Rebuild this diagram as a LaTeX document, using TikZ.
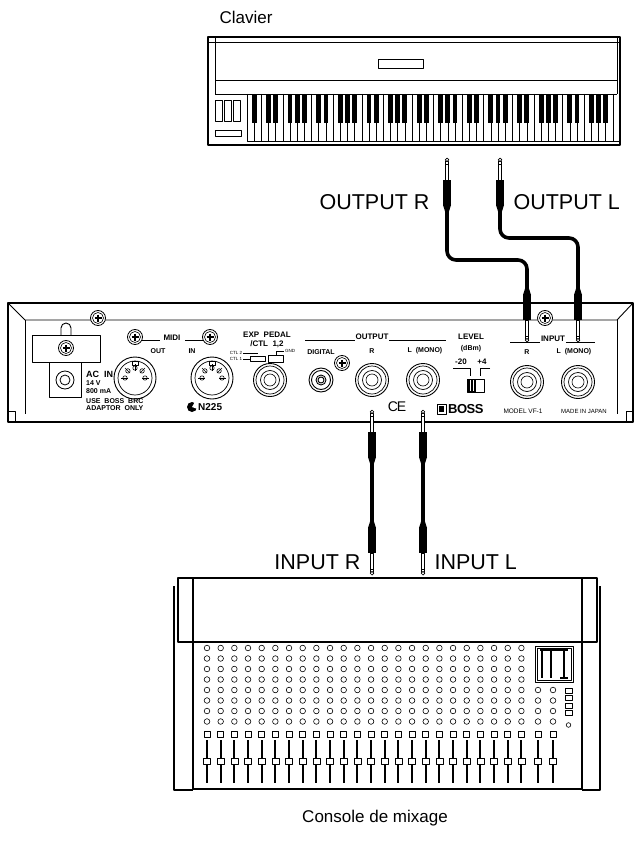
\documentclass[tikz,border=0pt]{standalone}
\usepackage{fontspec}
\setmainfont{Liberation Sans}
\begin{document}
\begin{tikzpicture}[x=1pt,y=-1pt,line join=round,
  big/.style={font=\fontsize{21.5}{24}\selectfont},
  mid/.style={font=\fontsize{17}{20}\selectfont},
  tiny/.style={font=\fontsize{7}{8}\selectfont\bfseries,inner sep=0pt},
  tinyn/.style={font=\fontsize{7}{8}\selectfont,inner sep=0pt},
  cable/.style={line width=3.6pt,rounded corners=9pt},
  plug/.pic={
    \draw[line width=0.7pt,fill=white] (-1.6,3) rectangle (1.6,22);
    \draw[line width=0.7pt,fill=white] (0,1.8) circle (1.8);
    \draw[line width=0.7pt] (-1.6,6) -- (1.6,6);
    \fill (-4,22) rectangle (4,47);
    \fill (-4,47) -- (4,47) -- (1.8,54) -- (-1.8,54) -- cycle;
  },
  screw/.pic={
    \draw[line width=0.8pt,fill=white] (0,0) circle (7.5);
    \draw[line width=0.6pt] (0,0) circle (5.5);
    \draw[line width=2.2pt] (-3.5,0) -- (3.5,0) (0,-3.5) -- (0,3.5);
  },
  jack/.pic={
    \draw[line width=0.9pt] (0,0) circle (16.5);
    \draw[line width=0.7pt] (0,0) circle (14);
    \draw[line width=0.7pt] (0,0) circle (9.5);
    \draw[line width=0.6pt] (0,0) circle (6);
  },
  din/.pic={
    \draw[line width=0.9pt] (0,0) circle (21);
    \draw[line width=0.7pt] (0,0) circle (17);
    \draw[line width=0.6pt] (-3,-17) rectangle (3,-13);
    \foreach \a in {180,225,270,315,360}{
      \draw[line width=0.6pt] (\a:10) circle (2.2);
      \draw[line width=0.5pt] (\a:7) -- (\a:14);}
  }]
\useasboundingbox (0,0) rectangle (637,842);

% ---------------- Keyboard ----------------
\node[mid,anchor=west] (clav) at (216,17) {Clavier};
\draw[line width=1.6pt] (208,37) rectangle (620,145);
\draw[line width=0.8pt] (215,37) -- (215,94) (617,37) -- (617,94);
\draw[line width=0.8pt] (208,42) -- (620,42);
\draw[line width=0.8pt] (215,80) -- (617,80);
\draw[line width=0.8pt] (215,94) -- (617,94);
\draw[line width=0.8pt] (378,59) rectangle (423,68);
\foreach \k in {0,1,2} \draw[line width=0.8pt] (215+\k*9,100) rectangle (222+\k*9,121);
\draw[line width=0.8pt] (215,130) rectangle (241,136);
\draw[line width=0.8pt] (247,94) -- (247,141) -- (620,141);
\foreach \i in {1,...,51} \draw[line width=0.5pt] (247+\i*7.173,94) -- (247+\i*7.173,141);
\foreach \i in {0,...,50}{
  \pgfmathtruncatemacro\m{mod(\i,7)}
  \ifnum\m=1\relax\else\ifnum\m=4\relax\else
    \fill (247+\i*7.173+7.173-2.4,94) rectangle (247+\i*7.173+7.173+2.4,123);
  \fi\fi}

% keyboard outputs
\coordinate (kr) at (447,158);
\coordinate (kl) at (500,158);
\node[big,anchor=east] (outr) at (433,202) {OUTPUT R};
\node[big,anchor=west] (outl) at (510,202) {OUTPUT L};

% ---------------- Rear panel ----------------
\draw[line width=1.2pt] (8,303) rectangle (633,422);
\draw[line width=0.9pt] (8,303) -- (25,320) -- (617,320) -- (633,303);
\draw[line width=0.9pt] (25,320) -- (25,414) (617,320) -- (617,414);
\draw[line width=0.8pt] (8,411) -- (15,411) -- (15,422) (633,411) -- (626,411) -- (626,422);
\pic at (98,318) {screw};
\pic at (545,318) {screw};
% power bracket
\draw[line width=0.9pt] (61,335) -- (61,328) arc (180:360:5) -- (71,335);
\draw[line width=0.9pt] (32,335) rectangle (100,362);
\pic at (66,348) {screw};
\draw[line width=0.7pt] (49,362) rectangle (81,397);
\draw[line width=0.8pt] (65,380) circle (9) (65,380) circle (5);
\node[tiny,anchor=west,font=\fontsize{9}{10}\selectfont\bfseries] at (86,374) {AC\ \ IN};
\node[tiny,anchor=west] at (86,383) {14 V};
\node[tiny,anchor=west] at (86,391) {800 mA};
\node[tiny,anchor=west] at (86,401) {USE\ \ BOSS\ \ BRC};
\node[tiny,anchor=west] at (86,408) {ADAPTOR\ \ ONLY};
% MIDI
\pic at (135,337) {screw};
\pic at (210,337) {screw};
\node[tiny,font=\fontsize{8}{9}\selectfont\bfseries] (midi) at (172,338) {MIDI};
\draw[line width=0.6pt] (142,340) -- (160,340) (185,340) -- (203,340);
\node[tiny] at (158,351) {OUT};
\node[tiny] at (192,351) {IN};
\pic at (135,378) {din};
\pic at (212,378) {din};
\fill (192,407) circle (5);
\fill[white] (192,407) -- ++(20:6) arc (20:-60:6) -- cycle;
\node[tiny,anchor=west,font=\fontsize{10}{11}\selectfont\bfseries] at (198,407) {N225};
% EXP pedal
\node[tiny,font=\fontsize{8}{9}\selectfont\bfseries] at (267,335) {EXP\ \ PEDAL};
\node[tiny,font=\fontsize{8}{9}\selectfont\bfseries] at (267,344) {/CTL\ \ 1,2};
\node[tiny,font=\fontsize{4.5}{5}\selectfont] at (236,353) {CTL\ 2};
\node[tiny,font=\fontsize{4.5}{5}\selectfont] at (236,359) {CTL\ 1};
\draw[line width=0.5pt] (243,353) -- (258,353) (243,359) -- (250,359);
\draw[line width=0.6pt] (250,356) rectangle (265,361) (268,355) rectangle (283,362);
\draw[line width=0.5pt] (276,355) -- (276,351) -- (284,351);
\node[tiny,font=\fontsize{4.5}{5}\selectfont,anchor=west] at (285,351) {GND};
\pic at (270,380) {jack};
% digital
\node[tiny] at (321,352) {DIGITAL};
\draw[line width=0.9pt] (321,380) circle (12) (321,380) circle (9.5) (321,380) circle (5) (321,380) circle (3);
\pic at (342,363) {screw};
% output
\node[tiny,font=\fontsize{8}{9}\selectfont\bfseries] (outlbl) at (372,337) {OUTPUT};
\draw[line width=0.6pt] (305,340) -- (355,340) (389,340) -- (446,340);
\node[tiny] at (372,351) {R};
\node[tiny] at (425,351) {L\ \ (MONO)};
\pic at (372,380) {jack};
\pic at (423,380) {jack};
\node[font=\fontsize{14}{15}\selectfont,inner sep=0pt] at (397,407) {C\kern-1ptE};
% level
\node[tiny,font=\fontsize{8}{9}\selectfont\bfseries] at (471,337) {LEVEL};
\node[tiny] at (471,349) {(dBm)};
\node[tiny,font=\fontsize{8}{9}\selectfont\bfseries] at (461,362) {-20};
\node[tiny,font=\fontsize{8}{9}\selectfont\bfseries] at (482,362) {+4};
\draw[line width=0.5pt] (453,368) -- (470,368) -- (470,376) (490,368) -- (480,368) -- (480,376);
\draw[line width=0.8pt] (467,379) rectangle (484,392);
\fill (467,379) rectangle (476,392);
\draw[white,line width=0.5pt] (470,380) -- (470,391) (473,380) -- (473,391);
% input
\node[tiny,font=\fontsize{8}{9}\selectfont\bfseries] (inlbl) at (553,339) {INPUT};
\draw[line width=0.6pt] (510,342) -- (540,342) (566,342) -- (595,342);
\node[tiny] at (527,352) {R};
\node[tiny] at (574,352) {L\ \ (MONO)};
\pic at (527,382) {jack};
\pic at (578,382) {jack};
% BOSS etc
\draw[line width=0.7pt] (437,404) rectangle (446,414);
\fill (439,406) rectangle (444,412);
\node[tiny,anchor=west,font=\fontsize{13}{14}\selectfont\bfseries] at (448,409.5) {B\kern-0.5ptO\kern-0.5ptS\kern-0.5ptS};
\node[tinyn,font=\fontsize{6.5}{7}\selectfont] at (523,411) {MODEL VF-1};
\node[tinyn,font=\fontsize{6}{7}\selectfont] at (584,411) {MADE IN JAPAN};

% ---------------- keyboard cables ----------------
\pic at (kr) {plug};
\pic at (kl) {plug};
\coordinate (ir) at (527,342);
\coordinate (il) at (578,342);
\draw[cable] (447,208) -- (447,260) -- (527,260) -- (527,292);
\draw[cable] (500,208) -- (500,238) -- (578,238) -- (578,292);
\pic[yscale=-1] at (ir) {plug};
\pic[yscale=-1] at (il) {plug};

% ---------------- mixer cables ----------------
\coordinate (or) at (372,410);
\coordinate (ol) at (423,410);
\coordinate (mr) at (372,575);
\coordinate (ml) at (423,575);
\pic at (or) {plug};
\pic at (ol) {plug};
\draw[line width=3.2pt] (372,460) -- (372,525);
\draw[line width=3.2pt] (423,460) -- (423,525);
\pic[yscale=-1] at (mr) {plug};
\pic[yscale=-1] at (ml) {plug};
\node[big,anchor=east] (inr) at (364,562) {INPUT R};
\node[big,anchor=west] (inl) at (431,562) {INPUT L};

% ---------------- Mixer ----------------
\draw[line width=1.2pt] (174,586) -- (174,790) -- (193,790) (600,586) -- (600,790) -- (582,790);
\draw[line width=1.2pt] (193,789) -- (582,789);
\draw[line width=1.2pt] (193,586) -- (193,789) (582,586) -- (582,789);
\draw[line width=1.2pt,fill=white] (178,578) rectangle (597,642);
\draw[line width=1.2pt] (193,578) -- (193,642) (582,578) -- (582,642);
\foreach \c in {0,...,23}{
  \foreach \r in {0,...,7}
    \draw[line width=0.6pt] (207+\c*13.67,648+\r*10.5) circle (2.8);
  \draw[line width=0.6pt] (204+\c*13.67,731) rectangle (210+\c*13.67,737);
  \draw[line width=2pt] (207+\c*13.67,740) -- (207+\c*13.67,783);
  \draw[line width=0.6pt,fill=white] (203.5+\c*13.67,758) rectangle (210.5+\c*13.67,764);
}
\foreach \cx in {538,553}{
  \foreach \r in {4,...,7}
    \draw[line width=0.6pt] (\cx,648+\r*10.5) circle (2.8);
  \draw[line width=0.6pt] (\cx-3,731) rectangle (\cx+3,737);
  \draw[line width=2pt] (\cx,740) -- (\cx,783);
  \draw[line width=0.6pt,fill=white] (\cx-3.5,758) rectangle (\cx+3.5,764);
}
\foreach \r in {0,...,3}
  \draw[line width=0.6pt] (565,688+\r*7.5) rectangle (572,693+\r*7.5);
\draw[line width=0.6pt] (568.5,725) circle (2.3);
\draw[line width=0.8pt] (535,646) rectangle (573,682);
\draw[line width=0.8pt] (537,648) rectangle (571,680);
\draw[line width=1.5pt] (540,650) -- (568,650);
\draw[line width=1.2pt] (542,650) -- (542,678) (551,650) -- (551,678) (564,650) -- (564,678);
\draw[line width=1.5pt] (560,678) -- (568,678);
\node[mid] (cons) at (375,818) {Console de mixage};
\end{tikzpicture}
\end{document}
